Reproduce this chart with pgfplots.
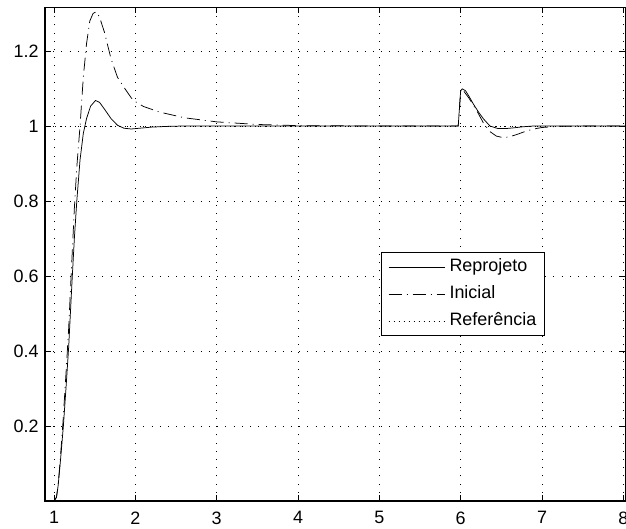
\documentclass[border=0pt]{standalone}
\usepackage{fontspec}
\setmainfont{Liberation Sans}
\usepackage{pgfplots}
\pgfplotsset{compat=1.18}
\begin{document}
\begin{tikzpicture}
\begin{axis}[
  scale only axis, width=581bp, height=493.7bp,
  xmin=0.889, xmax=8.033, ymin=0, ymax=1.3165,
  xtick={1,2,3,4,5,6,7,8},
  ytick={0.2,0.4,0.6,0.8,1,1.2},
  yticklabels={0.2,0.4,0.6,0.8,1,1.2},
  tick align=inside, major tick length=6bp,
  tick style={black, line width=0.6bp},
  axis line style={line width=1.1bp},
  grid=major,
  major grid style={black, line width=0.7bp, dash pattern=on 0.9bp off 7.3bp},
  /pgf/number format/assume math mode=true,
  tick label style={font=\fontsize{18}{20}\selectfont},
  xticklabel style={yshift=-7bp},
  yticklabel style={xshift=-3bp},
  legend cell align=left,
  legend style={at={(0.578,0.505)}, anchor=north west, draw=black, line width=0.9bp, fill=white,
    font=\fontsize{18}{20}\selectfont, row sep=8.5bp, inner xsep=7bp, inner ysep=5.5bp,
    nodes={inner sep=1.5bp, text height=12.5bp, text depth=3bp}},
  legend image code/.code={\draw[#1] (0bp,0bp) -- (56bp,0bp); \path (59bp,0bp);},
]
\addplot[black, line width=0.75bp] coordinates {
(1.00,0.0) (1.03,0.01) (1.05,0.04) (1.08,0.11) (1.115,0.2) (1.15,0.31) (1.18,0.41)
(1.22,0.58) (1.25,0.70) (1.28,0.80) (1.32,0.91) (1.36,0.98) (1.40,1.02) (1.45,1.053)
(1.51,1.068) (1.56,1.063) (1.62,1.045) (1.70,1.02) (1.78,1.002) (1.86,0.994)
(1.95,0.992) (2.05,0.994) (2.2,0.997) (2.4,0.999) (2.6,1.0) (5.97,1.0)
(6.0,1.094) (6.02,1.099) (6.06,1.094) (6.1,1.08) (6.155,1.059) (6.22,1.037)
(6.28,1.019) (6.36,1.0) (6.46,0.993) (6.55,0.993) (6.65,0.995) (6.77,0.998)
(6.9,1.0) (8.033,1.0)};
\addlegendentry{Reprojeto}
\addplot[black, line width=0.75bp, dash pattern=on 13bp off 5bp on 1bp off 5bp] coordinates {
(1.0,0.0) (1.03,0.01) (1.05,0.04) (1.08,0.12) (1.11,0.21) (1.15,0.35) (1.18,0.46)
(1.21,0.6) (1.25,0.78) (1.28,0.89) (1.32,1.0) (1.36,1.13) (1.40,1.22) (1.44,1.28)
(1.48,1.30) (1.52,1.305) (1.56,1.29) (1.62,1.25) (1.70,1.18) (1.78,1.13) (1.87,1.10)
(1.95,1.075) (2.0,1.065) (2.1,1.052) (2.3,1.037) (2.6,1.022) (3.0,1.011) (3.5,1.004)
(4.0,1.001) (5.0,1.0) (5.97,1.0) (6.0,1.094) (6.02,1.098) (6.1,1.075) (6.2,1.04)
(6.28,1.008) (6.36,0.985) (6.44,0.973) (6.52,0.969) (6.6,0.971) (6.7,0.978)
(6.8,0.986) (6.9,0.992) (7.0,0.996) (7.2,0.999) (7.5,1.0) (8.033,1.0)};
\addlegendentry{Inicial}
\addplot[black, line width=0.75bp, dash pattern=on 1bp off 4bp] coordinates {
(0.889,1) (8.033,1)};
\addlegendentry{Referência}
\end{axis}
\pgfresetboundingbox
\path (current axis.south west) ++(-45bp,-28bp) rectangle ++(626bp,529bp);
\end{tikzpicture}
\end{document}
